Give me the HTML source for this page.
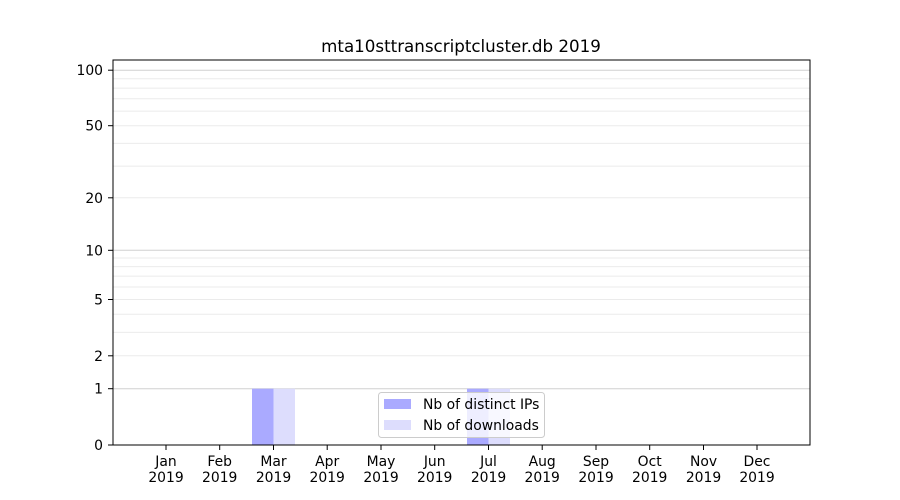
<!DOCTYPE html>
<html><head><meta charset="utf-8"><style>body{margin:0;background:#fff}svg{display:block;font-family:"DejaVu Sans","Liberation Sans",sans-serif}</style></head><body>
<svg width="900" height="500" viewBox="0 0 900 500">
<rect width="900" height="500" fill="#fff"/>
<g stroke="#ebebeb" stroke-width="1">
<line x1="113" x2="810" y1="355.8" y2="355.8"/><line x1="113" x2="810" y1="332.4" y2="332.4"/><line x1="113" x2="810" y1="314.3" y2="314.3"/><line x1="113" x2="810" y1="299.5" y2="299.5"/><line x1="113" x2="810" y1="287" y2="287"/><line x1="113" x2="810" y1="276.1" y2="276.1"/><line x1="113" x2="810" y1="266.6" y2="266.6"/><line x1="113" x2="810" y1="258" y2="258"/>
<line x1="113" x2="810" y1="197.8" y2="197.8"/><line x1="113" x2="810" y1="166.1" y2="166.1"/><line x1="113" x2="810" y1="143.4" y2="143.4"/><line x1="113" x2="810" y1="125.7" y2="125.7"/><line x1="113" x2="810" y1="111.1" y2="111.1"/><line x1="113" x2="810" y1="98.8" y2="98.8"/><line x1="113" x2="810" y1="88.1" y2="88.1"/><line x1="113" x2="810" y1="78.7" y2="78.7"/>
</g>
<g stroke="#d0d0d0" stroke-width="1">
<line x1="113" x2="810" y1="388.7" y2="388.7"/><line x1="113" x2="810" y1="250.3" y2="250.3"/><line x1="113" x2="810" y1="70.2" y2="70.2"/>
</g>
<rect x="252" y="388.7" width="21.5" height="56.3" fill="#aaaaff"/>
<rect x="273.5" y="388.7" width="21.5" height="56.3" fill="#ddddfd"/>
<rect x="467" y="388.7" width="21.5" height="56.3" fill="#aaaaff"/>
<rect x="488.5" y="388.7" width="21.5" height="56.3" fill="#ddddfd"/>
<rect x="113" y="60" width="697" height="385" fill="none" stroke="#000" stroke-width="1"/>
<text x="461" y="52" font-size="16.7" text-anchor="middle">mta10sttranscriptcluster.db 2019</text>
<g font-size="13.9" text-anchor="end" fill="#000">
<text x="103" y="450">0</text><text x="103" y="393.7">1</text><text x="103" y="360.8">2</text><text x="103" y="304.5">5</text><text x="103" y="255.3">10</text><text x="103" y="202.8">20</text><text x="103" y="130.7">50</text><text x="103" y="75.2">100</text>
</g>
<g stroke="#000"><line x1="108" x2="113" y1="445" y2="445"/><line x1="108" x2="113" y1="388.7" y2="388.7"/><line x1="108" x2="113" y1="355.8" y2="355.8"/><line x1="108" x2="113" y1="299.5" y2="299.5"/><line x1="108" x2="113" y1="250.3" y2="250.3"/><line x1="108" x2="113" y1="197.8" y2="197.8"/><line x1="108" x2="113" y1="125.7" y2="125.7"/><line x1="108" x2="113" y1="70.2" y2="70.2"/></g>
<g font-size="13.9" text-anchor="middle">
<text x="166" y="466">Jan</text><text x="166" y="482">2019</text>
<text x="219.7" y="466">Feb</text><text x="219.7" y="482">2019</text>
<text x="273.5" y="466">Mar</text><text x="273.5" y="482">2019</text>
<text x="327.2" y="466">Apr</text><text x="327.2" y="482">2019</text>
<text x="381" y="466">May</text><text x="381" y="482">2019</text>
<text x="434.7" y="466">Jun</text><text x="434.7" y="482">2019</text>
<text x="488.5" y="466">Jul</text><text x="488.5" y="482">2019</text>
<text x="542.2" y="466">Aug</text><text x="542.2" y="482">2019</text>
<text x="596" y="466">Sep</text><text x="596" y="482">2019</text>
<text x="649.7" y="466">Oct</text><text x="649.7" y="482">2019</text>
<text x="703.5" y="466">Nov</text><text x="703.5" y="482">2019</text>
<text x="757" y="466">Dec</text><text x="757" y="482">2019</text>
</g>
<g stroke="#000"><line x1="166" x2="166" y1="445" y2="450"/><line x1="219.7" x2="219.7" y1="445" y2="450"/><line x1="273.5" x2="273.5" y1="445" y2="450"/><line x1="327.2" x2="327.2" y1="445" y2="450"/><line x1="381" x2="381" y1="445" y2="450"/><line x1="434.7" x2="434.7" y1="445" y2="450"/><line x1="488.5" x2="488.5" y1="445" y2="450"/><line x1="542.2" x2="542.2" y1="445" y2="450"/><line x1="596" x2="596" y1="445" y2="450"/><line x1="649.7" x2="649.7" y1="445" y2="450"/><line x1="703.5" x2="703.5" y1="445" y2="450"/><line x1="757" x2="757" y1="445" y2="450"/></g>
<rect x="378.5" y="392.5" width="166" height="45" rx="3" fill="#fff" fill-opacity="0.8" stroke="#ccc"/>
<rect x="384" y="399" width="27" height="10" fill="#aaaaff"/>
<rect x="384" y="420" width="27" height="10" fill="#ddddfd"/>
<g font-size="13.9"><text x="423" y="409">Nb of distinct IPs</text><text x="423" y="430">Nb of downloads</text></g>
</svg>
</body></html>
